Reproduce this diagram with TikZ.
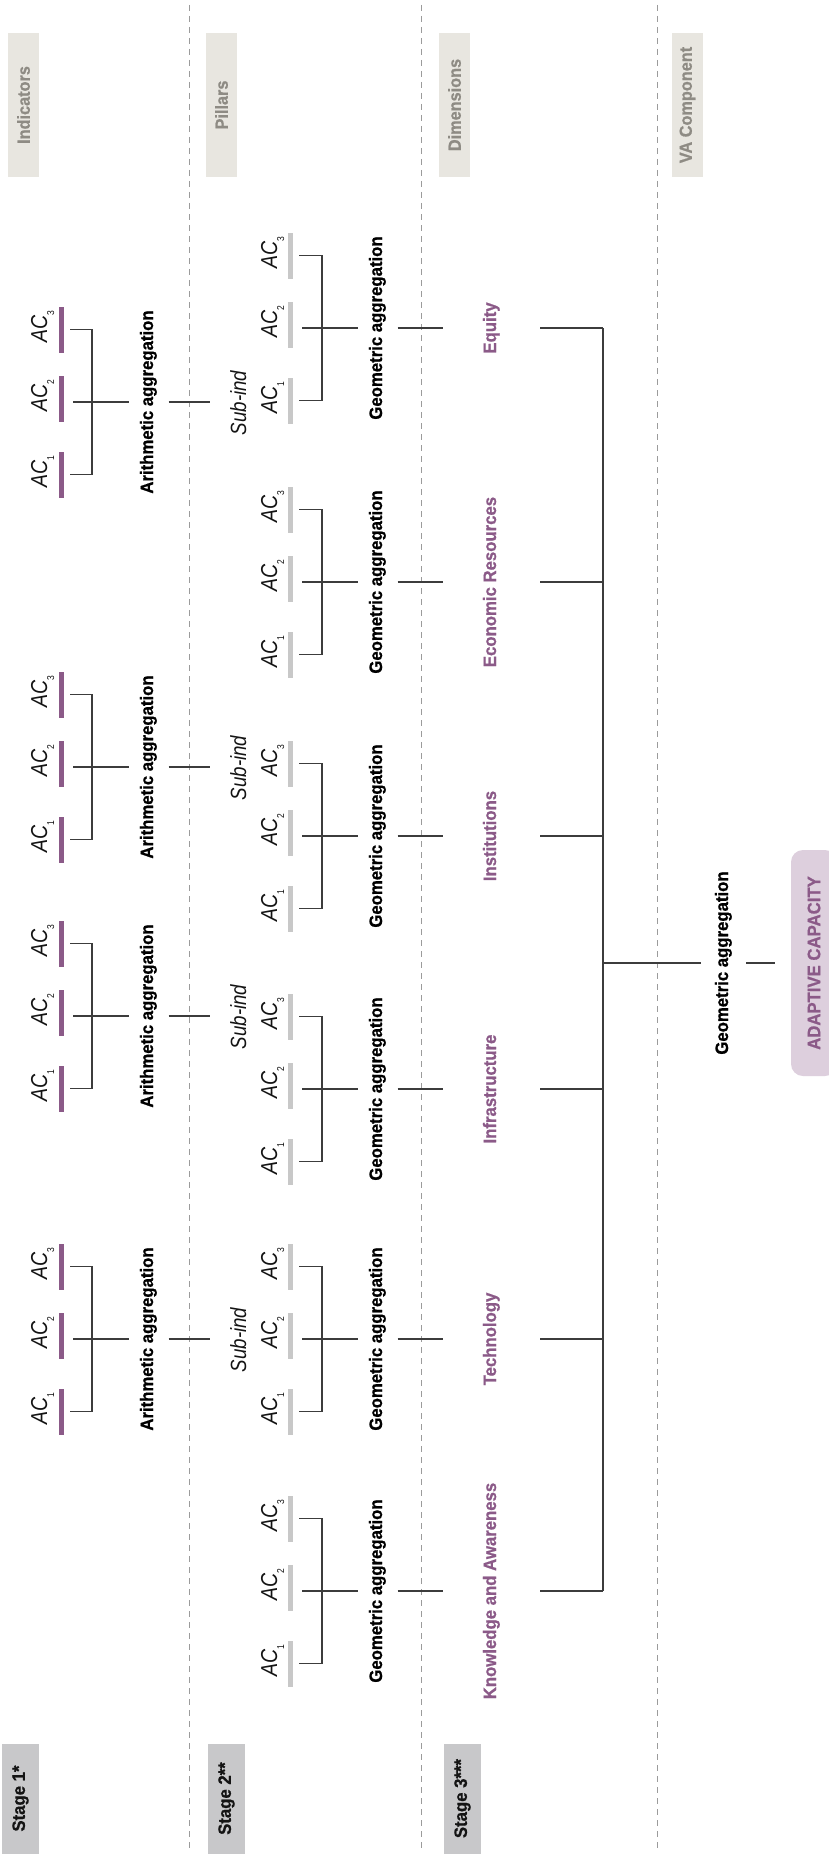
\documentclass[tikz,border=0pt]{standalone}
\usepackage{fontspec}
\setmainfont{Liberation Sans}
\newfontfamily\fbold[FakeStretch=0.93, BoldFeatures={FakeBold=0.8}]{Liberation Sans}
\newfontfamily\acfont[FakeStretch=0.85]{Liberation Sans}
\newcommand\acsub[1]{AC\raisebox{-7pt}{\fontsize{10}{10}\selectfont\upshape #1}}
\definecolor{purp}{RGB}{139,90,136}
\definecolor{barg}{RGB}{200,200,200}
\definecolor{stageg}{RGB}{200,200,202}
\definecolor{headg}{RGB}{232,230,224}
\definecolor{headt}{RGB}{142,139,132}
\definecolor{acfill}{RGB}{221,207,221}
\definecolor{linec}{RGB}{60,60,60}
\definecolor{txt}{RGB}{20,20,20}
\definecolor{dashc}{RGB}{155,155,155}
\tikzset{
  conn/.style={draw=linec, line width=1.1pt},
  sepline/.style={draw=dashc, line width=1pt, dash pattern=on 6pt off 5pt},
  pbar/.style={fill=purp, draw=none, minimum width=5pt, minimum height=46pt, inner sep=0pt},
  gbar/.style={fill=barg, draw=none, minimum width=5pt, minimum height=46pt, inner sep=0pt},
  aclab/.style={rotate=90, anchor=base, inner sep=0pt, text=txt, font={\acfont\itshape\fontsize{23}{23}\selectfont}},
  sublab/.style={rotate=90, anchor=base, inner sep=0pt, text=txt, font={\acfont\itshape\fontsize{22}{22}\selectfont}},
  boldlab/.style={rotate=90, anchor=base, inner sep=0pt, outer ysep=11.5pt, text height=13pt, text depth=4pt, text=black, font={\fbold\bfseries\fontsize{18}{18}\selectfont}},
  dimlab/.style={boldlab, outer ysep=40pt, text=purp},
  stagebox/.style={rotate=90, fill=stageg, minimum width=110pt, minimum height=37pt, inner sep=0pt, text=txt, font={\fbold\bfseries\fontsize{18}{18}\selectfont}},
  headbox/.style={rotate=90, fill=headg, minimum width=144pt, minimum height=31pt, inner sep=0pt, text=headt, font={\fbold\bfseries\fontsize{17.5}{17.5}\selectfont}},
  acbox/.style={rotate=90, fill=acfill, rounded corners=12pt, minimum width=226pt, minimum height=46pt, inner sep=0pt, outer ysep=16pt, text=purp, font={\fbold\bfseries\fontsize{18}{18}\selectfont}},
}
\begin{document}
\begin{tikzpicture}[x=1pt,y=1pt]
\useasboundingbox (0,0) rectangle (828,-1854);
\fill[white] (0,0) rectangle (828,-1854);

% separators
\draw[sepline] (189,-5) -- (189,-1848);
\draw[sepline] (421.5,-5) -- (421.5,-1848);
\draw[sepline] (657,-5) -- (657,-1848);

% header boxes
\node[headbox] (hInd) at (23.5,-105) {Indicators};
\node[headbox] (hPil) at (221.5,-105) {Pillars};
\node[headbox] (hDim) at (454.5,-105) {Dimensions};
\node[headbox] (hVA) at (687.5,-105) {VA Component};

% stage boxes
\node[stagebox] (st1) at (20.5,-1798.5) {Stage 1*};
\node[stagebox] (st2) at (226.5,-1798.5) {Stage 2**};
\node[stagebox] (st3) at (462.5,-1798.5) {Stage 3***};

% stage 2 / 3 : pillars and dimensions
\foreach \cy/\name/\id in {328/Equity/eq, 582/Economic Resources/ec, 836/Institutions/in, 1089/Infrastructure/if, 1339/Technology/te, 1591/Knowledge and Awareness/ka}{
  \pgfmathsetmacro\ya{-(\cy-72.5)}
  \pgfmathsetmacro\yb{-(\cy-3.5)}
  \pgfmathsetmacro\yc{-(\cy+72.5)}
  \pgfmathsetmacro\ym{-\cy}
  \node[gbar] (\id-p3) at (290.5,\ya) {};
  \node[gbar] (\id-p2) at (290.5,\yb) {};
  \node[gbar] (\id-p1) at (290.5,\yc) {};
  \node[aclab] (\id-l3) at (277,\ya+3) {\acsub{3}};
  \node[aclab] (\id-l2) at (277,\yb+3) {\acsub{2}};
  \node[aclab] (\id-l1) at (277,\yc+3) {\acsub{1}};
  \coordinate (\id-t) at (299,\ya);
  \coordinate (\id-tc) at (322,\ya);
  \coordinate (\id-bc) at (322,\yc);
  \coordinate (\id-b) at (299,\yc);
  \draw[conn] (\id-t) -- (\id-tc) -- (\id-bc) -- (\id-b);
  \coordinate (\id-m0) at (302,\ym);
  \node[boldlab] (\id-geo) at (382,\ym) {Geometric aggregation};
  \draw[conn] (\id-m0) -- (\id-geo);
  \node[dimlab] (\id-dim) at (496,\ym) {\name};
  \draw[conn] (\id-geo) -- (\id-dim);
  \coordinate (\id-j) at (603,\ym);
  \draw[conn] (\id-dim) -- (\id-j);
}

% stage 1 : indicators
\foreach \cy/\id in {402/eq, 767/in, 1016/if, 1339/te}{
  \pgfmathsetmacro\ya{-(\cy-72.5)}
  \pgfmathsetmacro\yb{-(\cy-3.5)}
  \pgfmathsetmacro\yc{-(\cy+72.5)}
  \pgfmathsetmacro\ym{-\cy}
  \node[pbar] (\id-i3) at (61.5,\ya) {};
  \node[pbar] (\id-i2) at (61.5,\yb) {};
  \node[pbar] (\id-i1) at (61.5,\yc) {};
  \node[aclab] (\id-k3) at (47,\ya+3) {\acsub{3}};
  \node[aclab] (\id-k2) at (47,\yb+3) {\acsub{2}};
  \node[aclab] (\id-k1) at (47,\yc+3) {\acsub{1}};
  \coordinate (\id-it) at (70,\ya);
  \coordinate (\id-itc) at (92,\ya);
  \coordinate (\id-ibc) at (92,\yc);
  \coordinate (\id-ib) at (70,\yc);
  \draw[conn] (\id-it) -- (\id-itc) -- (\id-ibc) -- (\id-ib);
  \coordinate (\id-im) at (73,\ym);
  \node[boldlab] (\id-ar) at (153,\ym) {Arithmetic aggregation};
  \draw[conn] (\id-im) -- (\id-ar);
  \coordinate (\id-s) at (210,\ym);
  \draw[conn] (\id-ar) -- (\id-s);
  \node[sublab] (\id-sub) at (246,\ym-1) {Sub-ind};
}

% stage 3 : final aggregation
\draw[conn, line width=1.5pt] (eq-j) -- (ka-j);
\coordinate (fj) at (603,-963);
\node[boldlab, outer ysep=14pt] (fgeo) at (728,-963) {Geometric aggregation};
\node[acbox] (ac) at (814,-963) {ADAPTIVE CAPACITY};
\draw[conn] (fj) -- (fgeo);
\draw[conn] (fgeo) -- (ac);
\end{tikzpicture}
\end{document}
